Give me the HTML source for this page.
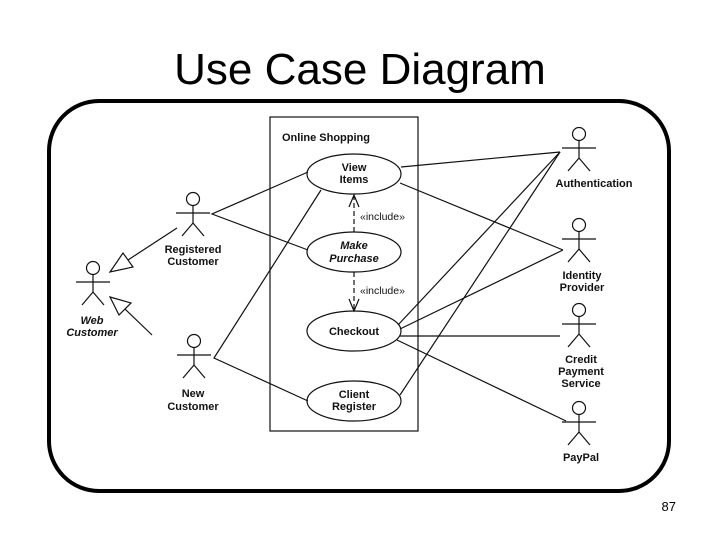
<!DOCTYPE html>
<html><head><meta charset="utf-8"><style>
body{margin:0;background:#fff;width:720px;height:540px;overflow:hidden;font-family:"Liberation Sans",sans-serif}
</style></head><body>
<svg width="720" height="540" xmlns="http://www.w3.org/2000/svg" font-family="Liberation Sans, sans-serif">
<defs>
<g id="a" stroke="#111" stroke-width="1.2" fill="none">
<circle cx="0" cy="0" r="6.5"/>
<line x1="0" y1="6.5" x2="0" y2="24"/>
<line x1="-17" y1="14" x2="17" y2="14"/>
<polyline points="-11,37 0,24 11,37"/>
</g>
</defs>
<text x="360" y="84" font-size="44" text-anchor="middle">Use Case Diagram</text>
<rect x="49" y="101" width="620" height="390" rx="50" ry="50" fill="none" stroke="#000" stroke-width="4"/>
<text x="676" y="511" font-size="13" text-anchor="end">87</text>
<g stroke="#111" stroke-width="1.2" fill="none">
<rect x="270" y="117" width="148" height="314"/>
<ellipse cx="354" cy="174" rx="47" ry="20" fill="#fff"/>
<ellipse cx="354" cy="252" rx="47" ry="20" fill="#fff"/>
<ellipse cx="354" cy="331" rx="47" ry="20" fill="#fff"/>
<ellipse cx="354" cy="401" rx="47" ry="20" fill="#fff"/>
<line x1="354" y1="232" x2="354" y2="196" stroke-dasharray="5,3"/>
<polyline points="349,207 354,195 359,207"/>
<line x1="354" y1="272" x2="354" y2="310" stroke-dasharray="5,3"/>
<polyline points="349,299 354,311 359,299"/>
<polyline points="308,172 212,214 308,250"/>
<polyline points="321,190 214,358 308,401"/>
<line x1="560" y1="152" x2="401" y2="167"/>
<line x1="560" y1="152" x2="398" y2="325"/>
<line x1="560" y1="152" x2="400" y2="395"/>
<line x1="563" y1="250" x2="400" y2="183"/>
<line x1="563" y1="250" x2="400" y2="329"/>
<line x1="400" y1="336" x2="560" y2="336"/>
<line x1="397" y1="340" x2="566" y2="421"/>
<line x1="177" y1="228" x2="128" y2="260"/>
<polygon points="110,272 123,253 133,267" fill="#fff"/>
<line x1="152" y1="335" x2="125" y2="309"/>
<polygon points="110,297 119,315 131,303" fill="#fff"/>
</g>
<use href="#a" transform="translate(193,199)"/>
<use href="#a" transform="translate(93,268)"/>
<use href="#a" transform="translate(194,341)"/>
<use href="#a" transform="translate(579,134)"/>
<use href="#a" transform="translate(579,225)"/>
<use href="#a" transform="translate(579,310)"/>
<use href="#a" transform="translate(579,408)"/>
<g font-size="11" font-weight="bold" text-anchor="middle" fill="#111">
<text x="282" y="141" text-anchor="start">Online Shopping</text>
<text x="354" y="171">View</text><text x="354" y="183">Items</text>
<text x="354" y="249" font-style="italic">Make</text><text x="354" y="262" font-style="italic">Purchase</text>
<text x="354" y="335">Checkout</text>
<text x="354" y="398">Client</text><text x="354" y="410">Register</text>
<text x="193" y="253">Registered</text><text x="193" y="265">Customer</text>
<text x="92" y="324" font-style="italic">Web</text><text x="92" y="336" font-style="italic">Customer</text>
<text x="193" y="397">New</text><text x="193" y="410">Customer</text>
<text x="594" y="187">Authentication</text>
<text x="582" y="279">Identity</text><text x="582" y="291">Provider</text>
<text x="581" y="363">Credit</text><text x="581" y="375">Payment</text><text x="581" y="387">Service</text>
<text x="581" y="461">PayPal</text>
</g>
<g font-size="10.5" fill="#111">
<text x="360" y="220">«include»</text>
<text x="360" y="294">«include»</text>
</g>
</svg>
</body></html>
